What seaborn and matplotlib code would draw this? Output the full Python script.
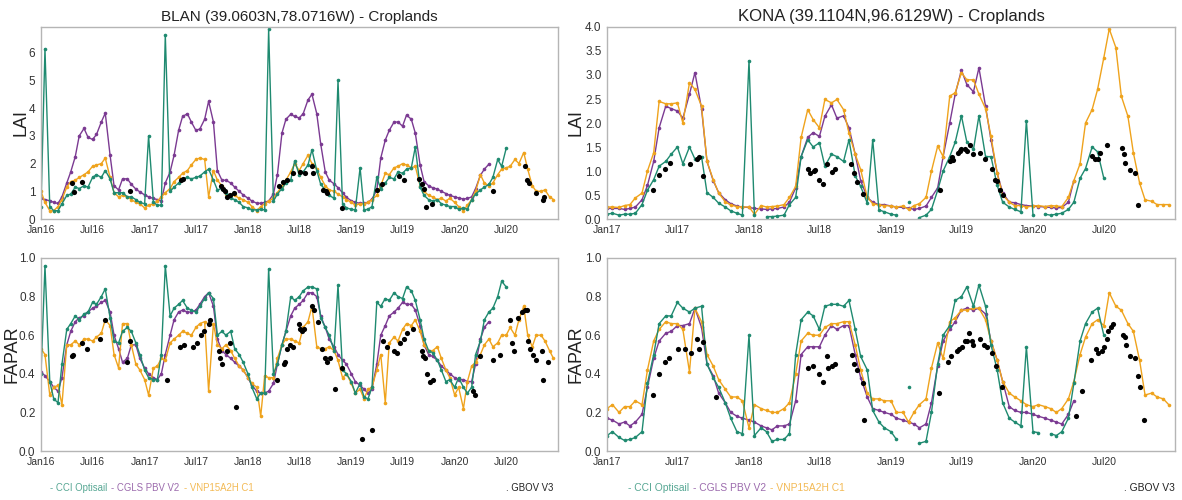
import numpy as np
import pandas as pd
import matplotlib
matplotlib.use("Agg")
import matplotlib.pyplot as plt
import matplotlib.dates as mdates
from matplotlib import font_manager
import seaborn as sns

nan = np.nan

# ---------------- BLAN: semi-monthly samples starting 2016-01-01 ----------------
blan_start = "2016-01-01"
blan_periods = 120

blan_lai_cgls = [
    0.75, 0.70, 0.66, 0.60, 0.56, 0.80, 1.30, 1.70, 2.25, 3.00,
    3.27, 2.95, 2.87, 3.05, 3.50, 3.82, 2.30, 1.20, 1.05, 1.45,
    1.45, 1.25, 1.08, 0.98, 0.87, 0.80, 0.74, 0.70, 0.66, 1.30,
    1.70, 2.30, 3.20, 3.70, 3.80, 3.50, 3.20, 3.25, 3.60, 4.25,
    3.50, 1.75, 1.40, 1.40, 1.30, 1.15, 1.00, 0.87, 0.75, 0.65,
    0.57, 0.57, 0.60, 0.65, 0.90, 1.60, 3.10, 3.60, 3.78, 3.70,
    3.65, 3.80, 4.30, 4.50, 3.80, 2.70, 1.70, 1.40, 1.27, 1.13,
    0.95, 0.78, 0.66, 0.60, 0.57, 0.57, 0.60, 0.72, 1.05, 2.20,
    2.85, 3.20, 3.50, 3.50, 3.35, 3.75, 3.60, 3.10, 1.95, 1.35,
    1.20, 1.13, 1.08, 1.00, 0.92, 0.85, 0.80, 0.76, 0.72, 0.74,
    0.80, 1.10, 1.58, 1.80, 1.98, nan, nan, nan, nan, nan,
    nan, nan, nan, nan, nan, nan, nan, nan, nan, nan,
]
blan_lai_cci = [
    0.45, 6.15, 0.45, 0.30, 0.30, 0.55, 0.85, 0.90, 1.15, 1.10,
    1.20, 1.15, 1.50, 1.60, 1.50, 1.75, 1.45, 0.95, 0.95, 0.95,
    0.80, 0.80, 0.70, 0.60, 0.55, 3.00, 0.60, 0.50, 0.50, 6.65,
    1.00, 1.15, 1.30, 1.45, 1.50, 1.45, 1.50, 1.55, 1.70, 1.80,
    1.40, 1.05, 1.10, 0.95, 0.75, 0.70, 0.60, 0.45, 0.40, 0.33,
    0.33, 0.35, 0.33, 6.85, 0.65, 0.90, 1.10, 1.30, 1.40, 2.10,
    1.60, 1.70, 1.95, 2.50, 1.75, 1.25, 1.05, 0.85, 0.75, 5.00,
    0.55, 0.40, 0.35, 0.33, 1.85, 0.33, 0.35, 0.45, 1.50, 1.10,
    1.30, 1.50, 1.45, 1.70, 1.65, 1.80, 1.85, 2.60, 1.15, 0.85,
    0.70, 0.65, 0.70, 0.55, 0.50, 0.45, 0.45, 0.35, 0.40, 0.35,
    0.70, 0.90, 1.05, 1.15, 1.25, 1.50, 2.15, 1.90, 2.55, nan,
    nan, nan, nan, nan, nan, nan, nan, nan, nan, nan,
]
blan_lai_vnp = [
    1.00, 0.60, 0.30, 0.30, 0.45, 0.70, 1.15, 1.35, 1.40, 1.50,
    1.60, 1.70, 1.90, 1.95, 2.00, 2.20, 1.50, 0.95, 0.80, 0.85,
    0.80, 0.70, 0.60, 0.55, 0.40, 0.50, 0.55, 0.65, 0.80, 0.95,
    1.10, 1.35, 1.50, 1.65, 1.75, 1.95, 2.15, 2.20, 2.15, 0.80,
    1.75, 1.40, 1.20, 0.90, 0.85, 0.85, 0.75, 0.70, 0.60, 0.45,
    0.30, 0.45, 0.55, 0.65, 0.75, 0.95, 1.20, 1.40, 1.70, 2.00,
    1.75, 2.00, 2.30, 2.00, 1.80, 1.50, 1.20, 1.05, 1.00, 0.90,
    0.80, 0.70, 0.60, 0.50, 0.55, 0.55, 0.60, 0.70, 0.85, 1.20,
    1.65, 1.60, 1.85, 1.90, 2.00, 1.95, 1.85, 1.90, 1.20, 1.00,
    0.85, 0.80, 0.70, 0.75, 0.65, 0.75, 0.60, 0.45, 0.30, 0.50,
    0.70, 1.00, 1.60, 1.30, 1.20, 1.30, 1.60, 1.80, 1.85, 1.90,
    2.15, 2.00, 2.40, 1.80, 1.20, 1.00, 1.00, 1.05, 0.80, 0.70,
]
blan_lai_gbov_t = [
    2016.30, 2016.32, 2016.395, 2016.865, 2017.35, 2017.37, 2017.74, 2017.76,
    2017.78, 2017.80, 2017.83, 2017.86, 2018.30, 2018.34, 2018.38, 2018.44,
    2018.50, 2018.55, 2018.62, 2018.63, 2018.73, 2018.75, 2018.76, 2018.91,
    2019.25, 2019.30, 2019.46, 2019.51, 2019.65, 2019.68, 2019.70, 2019.72,
    2019.78, 2020.37, 2020.68, 2020.70, 2020.72, 2020.79, 2020.85, 2020.86,
]
blan_lai_gbov_v = [
    1.30, 0.97, 1.35, 1.00, 1.40, 1.45, 1.20, 1.10,
    1.00, 0.80, 0.85, 0.95, 1.20, 1.35, 1.40, 1.65,
    1.70, 1.65, 1.90, 1.65, 1.05, 1.00, 0.95, 0.40,
    1.05, 1.25, 1.55, 1.40, 1.45, 1.25, 1.10, 0.45,
    0.55, 1.00, 1.90, 1.40, 1.30, 0.95, 0.70, 0.80,
]

blan_fapar_cgls = [
    0.41, 0.39, 0.36, 0.33, 0.31, 0.38, 0.55, 0.62, 0.67, 0.69,
    0.70, 0.72, 0.74, 0.75, 0.77, 0.78, 0.72, 0.60, 0.53, 0.46,
    0.48, 0.55, 0.55, 0.48, 0.43, 0.40, 0.38, 0.37, 0.40, 0.50,
    0.60, 0.68, 0.72, 0.73, 0.72, 0.72, 0.73, 0.76, 0.80, 0.82,
    0.75, 0.58, 0.52, 0.50, 0.48, 0.46, 0.44, 0.42, 0.38, 0.34,
    0.31, 0.30, 0.30, 0.31, 0.35, 0.45, 0.55, 0.62, 0.70, 0.74,
    0.76, 0.78, 0.82, 0.82, 0.80, 0.70, 0.64, 0.58, 0.54, 0.50,
    0.47, 0.45, 0.40, 0.36, 0.34, 0.32, 0.30, 0.32, 0.45, 0.60,
    0.65, 0.70, 0.72, 0.74, 0.77, 0.76, 0.76, 0.73, 0.65, 0.55,
    0.50, 0.49, 0.47, 0.44, 0.42, 0.40, 0.38, 0.37, 0.37, 0.36,
    0.36, 0.45, 0.58, 0.64, 0.67, nan, nan, nan, nan, nan,
    nan, nan, nan, nan, nan, nan, nan, nan, nan, nan,
]
blan_fapar_cci = [
    0.40, 0.96, 0.36, 0.27, 0.25, 0.45, 0.63, 0.66, 0.70, 0.68,
    0.71, 0.72, 0.77, 0.76, 0.80, 0.84, 0.69, 0.57, 0.56, 0.62,
    0.64, 0.62, 0.56, 0.50, 0.42, 0.38, 0.37, 0.37, 0.50, 0.96,
    0.70, 0.74, 0.76, 0.78, 0.74, 0.73, 0.72, 0.75, 0.79, 0.82,
    0.79, 0.60, 0.62, 0.60, 0.62, 0.53, 0.50, 0.46, 0.40, 0.33,
    0.27, 0.30, 0.30, 0.945, 0.40, 0.45, 0.55, 0.62, 0.80, 0.78,
    0.80, 0.83, 0.85, 0.85, 0.84, 0.69, 0.64, 0.60, 0.52, 0.86,
    0.42, 0.40, 0.36, 0.30, 0.35, 0.28, 0.27, 0.33, 0.77, 0.75,
    0.79, 0.78, 0.82, 0.80, 0.79, 0.85, 0.83, 0.78, 0.68, 0.58,
    0.52, 0.51, 0.47, 0.42, 0.36, 0.37, 0.33, 0.38, 0.33, 0.30,
    0.33, 0.50, 0.57, 0.68, 0.72, 0.74, 0.80, 0.88, 0.85, nan,
    nan, nan, nan, nan, nan, nan, nan, nan, nan, nan,
]
blan_fapar_vnp = [
    0.53, 0.50, 0.29, 0.33, 0.34, 0.24, 0.55, 0.55, 0.57, 0.55,
    0.58, 0.58, 0.57, 0.59, 0.61, 0.68, 0.65, 0.50, 0.43, 0.66,
    0.66, 0.55, 0.45, 0.42, 0.37, 0.29, 0.43, 0.44, 0.48, 0.47,
    0.56, 0.58, 0.60, 0.62, 0.61, 0.60, 0.64, 0.66, 0.67, 0.31,
    0.66, 0.55, 0.53, 0.55, 0.52, 0.48, 0.44, 0.42, 0.38, 0.35,
    0.33, 0.18, 0.39, 0.38, 0.38, 0.48, 0.55, 0.58, 0.58, 0.57,
    0.56, 0.64, 0.67, 0.75, 0.54, 0.53, 0.53, 0.54, 0.52, 0.47,
    0.38, 0.40, 0.35, 0.30, 0.32, 0.27, 0.32, 0.33, 0.42, 0.50,
    0.25, 0.56, 0.59, 0.57, 0.63, 0.66, 0.65, 0.68, 0.62, 0.55,
    0.52, 0.52, 0.54, 0.48, 0.42, 0.38, 0.29, 0.33, 0.22, 0.36,
    0.44, 0.46, 0.50, 0.55, 0.58, 0.54, 0.56, 0.60, 0.60, 0.64,
    0.60, 0.68, 0.75, 0.60, 0.54, 0.60, 0.60, 0.57, 0.52, 0.48,
]
blan_fapar_gbov_t = [
    2016.297, 2016.313, 2016.394, 2016.442, 2016.571, 2016.619, 2016.829, 2016.861,
    2017.216, 2017.345, 2017.377, 2017.468, 2017.506, 2017.545, 2017.577, 2017.619,
    2017.635, 2017.716, 2017.732, 2017.748, 2017.797, 2017.829, 2017.881, 2018.281,
    2018.345, 2018.361, 2018.377, 2018.410, 2018.440, 2018.489, 2018.505, 2018.520,
    2018.537, 2018.617, 2018.634, 2018.682, 2018.714, 2018.747, 2018.760, 2018.795,
    2018.843, 2018.908, 2019.100, 2019.198, 2019.311, 2019.343, 2019.408, 2019.440,
    2019.470, 2019.505, 2019.537, 2019.600, 2019.680, 2019.697, 2019.713, 2019.730,
    2019.760, 2019.790, 2020.180, 2020.197, 2020.246, 2020.375, 2020.440, 2020.536,
    2020.552, 2020.570, 2020.616, 2020.649, 2020.680, 2020.697, 2020.713, 2020.729,
    2020.760, 2020.790, 2020.840, 2020.857, 2020.907,
]
blan_fapar_gbov_v = [
    0.49, 0.50, 0.56, 0.53, 0.58, 0.68, 0.46, 0.57,
    0.37, 0.54, 0.55, 0.54, 0.56, 0.60, 0.62, 0.66,
    0.68, 0.52, 0.48, 0.45, 0.52, 0.56, 0.23, 0.37,
    0.45, 0.46, 0.53, 0.55, 0.54, 0.66, 0.63, 0.62,
    0.63, 0.75, 0.73, 0.67, 0.53, 0.48, 0.46, 0.48,
    0.32, 0.43, 0.06, 0.11, 0.57, 0.54, 0.52, 0.51,
    0.56, 0.58, 0.61, 0.63, 0.52, 0.49, 0.48, 0.40,
    0.36, 0.37, 0.31, 0.29, 0.49, 0.47, 0.50, 0.68,
    0.56, 0.52, 0.69, 0.72, 0.73, 0.73, 0.57, 0.53,
    0.50, 0.47, 0.52, 0.37, 0.46,
]

# ---------------- KONA: semi-monthly samples starting 2017-01-01 ----------------
kona_start = "2017-01-01"
kona_periods = 96

kona_lai_cgls = [
    0.22, 0.22, 0.22, 0.20, 0.22, 0.25, 0.40, 0.70, 1.20, 1.90,
    2.35, 2.30, 2.25, 2.10, 2.60, 3.05, 2.30, 1.20, 0.80, 0.55,
    0.40, 0.32, 0.27, 0.25, 0.24, 0.22, 0.21, 0.20, 0.21, 0.22,
    0.25, 0.35, 0.65, 1.30, 1.70, 1.80, 1.72, 2.14, 2.38, 2.10,
    2.15, 1.90, 1.35, 0.80, 0.45, 0.35, 0.30, 0.30, 0.27, 0.25,
    0.24, 0.23, 0.20, 0.22, 0.27, 0.45, 0.65, 1.30, 2.00, 2.60,
    3.10, 2.80, 2.65, 3.15, 2.35, 1.65, 0.95, 0.55, 0.35, 0.34,
    0.30, 0.28, 0.27, 0.26, 0.25, 0.24, 0.23, 0.24, 0.35, 0.80,
    nan, nan, nan, nan, nan, nan, nan, nan, nan, nan,
    nan, nan, nan, nan, nan, nan,
]
kona_lai_cci = [
    0.10, 0.12, 0.08, 0.10, 0.10, 0.12, 0.30, 0.60, 0.82, 1.10,
    1.20, 1.35, 1.50, 1.15, 1.50, 1.25, 1.30, 0.55, 0.45, 0.33,
    0.25, 0.17, 0.12, 0.08, 3.30, 0.08, nan, 0.05, 0.05, 0.06,
    0.08, 0.30, 0.45, 1.30, 1.65, 1.50, 1.59, 1.10, 1.35, 1.30,
    1.20, 1.65, 0.90, 0.68, 0.33, 1.65, 0.19, 0.15, 0.10, 0.08,
    nan, 0.35, nan, 0.03, 0.08, 0.20, 0.60, 1.00, 1.30, 1.60,
    2.15, 1.60, 1.45, 2.15, 1.30, 1.30, 0.70, 0.35, 0.25, 0.20,
    0.15, 2.05, 0.08, nan, 0.10, 0.08, 0.10, 0.12, 0.20, 0.35,
    0.85, 1.05, 1.50, 1.40, 0.85, nan, nan, nan, nan, nan,
    nan, nan, nan, nan, nan, nan,
]
kona_lai_vnp = [
    0.25, 0.25, 0.24, 0.28, 0.30, 0.44, 0.54, 1.00, 1.38, 2.45,
    2.40, 2.40, 2.42, 2.00, 2.84, 2.70, 2.35, 1.20, 0.82, 0.54,
    0.36, 0.29, 0.26, 0.25, 0.25, 0.10, 0.28, 0.25, 0.26, 0.27,
    0.30, 0.45, 0.68, 1.70, 2.28, 2.07, 1.90, 2.49, 2.42, 2.49,
    2.28, 1.79, 1.35, 1.03, 0.45, 0.32, 0.29, 0.28, 0.27, 0.25,
    0.27, 0.20, 0.28, 0.32, 0.45, 1.00, 1.52, 1.30, 2.56, 2.63,
    3.05, 2.90, 2.90, 2.60, 2.30, 1.72, 0.95, 0.50, 0.35, 0.28,
    0.28, 0.25, 0.27, 0.28, 0.26, 0.28, 0.27, 0.26, 0.45, 0.80,
    1.15, 2.00, 2.28, 2.70, 3.36, 3.96, 3.57, 2.56, 2.14, 1.38,
    0.75, 0.40, 0.37, 0.30, 0.30, 0.30,
]
kona_lai_gbov_t = [
    2017.321, 2017.367, 2017.408, 2017.442, 2017.583, 2017.633, 2017.650, 2017.675,
    2018.413, 2018.429, 2018.454, 2018.467, 2018.496, 2018.521, 2018.546, 2018.583,
    2018.604, 2018.717, 2018.738, 2018.758, 2018.800,
    2019.342, 2019.417, 2019.427, 2019.438, 2019.475, 2019.488, 2019.496, 2019.521,
    2019.538, 2019.558, 2019.579, 2019.625, 2019.663, 2019.708, 2019.733, 2019.746,
    2019.767, 2019.788,
    2020.413, 2020.438, 2020.458, 2020.471, 2020.519, 2020.629, 2020.642, 2020.650,
    2020.683, 2020.717, 2020.742,
]
kona_lai_gbov_v = [
    0.61, 0.92, 1.05, 1.17, 1.15, 1.25, 1.30, 0.90,
    1.05, 0.95, 1.00, 1.02, 0.82, 0.72, 1.15, 0.98,
    1.05, 1.15, 0.95, 0.78, 0.52,
    0.60, 1.20, 1.30, 1.22, 1.38, 1.42, 1.45, 1.45,
    1.42, 1.55, 1.35, 1.38, 1.24, 1.05, 0.82, 0.80,
    0.60, 0.50,
    1.31, 1.25, 1.25, 1.38, 1.55, 1.48, 1.35, 1.17,
    1.03, 0.96, 0.29,
]

kona_fapar_cgls = [
    0.17, 0.16, 0.14, 0.15, 0.13, 0.15, 0.19, 0.33, 0.48, 0.57,
    0.61, 0.62, 0.65, 0.65, 0.66, 0.74, 0.64, 0.45, 0.39, 0.30,
    0.25, 0.20, 0.18, 0.17, 0.16, 0.15, 0.13, 0.12, 0.11, 0.13,
    0.13, 0.14, 0.26, 0.50, 0.54, 0.54, 0.54, 0.60, 0.65, 0.63,
    0.65, 0.65, 0.50, 0.38, 0.28, 0.22, 0.21, 0.20, 0.19, 0.17,
    0.16, 0.15, 0.14, 0.12, 0.14, 0.25, 0.44, 0.57, 0.63, 0.67,
    0.73, 0.74, 0.73, 0.74, 0.71, 0.57, 0.47, 0.36, 0.23, 0.21,
    0.20, 0.20, 0.19, 0.18, 0.17, 0.16, 0.15, 0.14, 0.19, 0.26,
    nan, nan, nan, nan, nan, nan, nan, nan, nan, nan,
    nan, nan, nan, nan, nan, nan,
]
kona_fapar_cci = [
    0.08, 0.10, 0.07, 0.055, 0.06, 0.07, 0.10, 0.35, 0.50, 0.66,
    0.70, 0.70, 0.77, 0.74, 0.72, 0.74, 0.75, 0.45, 0.38, 0.33,
    0.25, 0.17, 0.10, 0.09, 0.60, 0.08, 0.12, 0.10, 0.05, 0.06,
    0.06, 0.09, 0.50, 0.68, 0.72, 0.70, 0.63, 0.75, 0.76, 0.76,
    0.75, 0.78, 0.63, 0.49, 0.42, 0.21, 0.15, 0.12, 0.10, 0.06,
    nan, 0.33, nan, 0.04, 0.05, 0.20, 0.45, 0.60, 0.65, 0.78,
    0.80, 0.85, 0.75, 0.86, 0.75, 0.55, 0.42, 0.25, 0.17, 0.15,
    0.13, 0.54, 0.10, 0.095, nan, 0.09, 0.08, 0.10, 0.17, 0.35,
    0.57, 0.66, 0.72, 0.74, 0.60, nan, nan, nan, nan, nan,
    nan, nan, nan, nan, nan, nan,
]
kona_fapar_vnp = [
    0.22, 0.24, 0.20, 0.23, 0.23, 0.26, 0.24, 0.42, 0.57, 0.63,
    0.67, 0.66, 0.66, 0.63, 0.41, 0.74, 0.67, 0.50, 0.44, 0.37,
    0.32, 0.28, 0.28, 0.26, 0.12, 0.24, 0.22, 0.21, 0.20, 0.20,
    0.22, 0.25, 0.40, 0.57, 0.61, 0.60, 0.60, 0.64, 0.66, 0.66,
    0.67, 0.67, 0.55, 0.42, 0.30, 0.27, 0.27, 0.26, 0.26, 0.20,
    0.20, 0.15, 0.20, 0.24, 0.27, 0.43, 0.56, 0.48, 0.67, 0.69,
    0.73, 0.73, 0.74, 0.74, 0.68, 0.57, 0.47, 0.36, 0.30, 0.28,
    0.26, 0.24, 0.23, 0.24, 0.23, 0.22, 0.20, 0.22, 0.27, 0.36,
    0.50, 0.59, 0.66, 0.68, 0.65, 0.82, 0.75, 0.73, 0.66, 0.62,
    0.47, 0.29, 0.30, 0.28, 0.27, 0.24,
]
kona_fapar_gbov_t = [
    2017.322, 2017.366, 2017.408, 2017.439, 2017.498, 2017.549, 2017.589, 2017.631,
    2017.648, 2017.674, 2017.768,
    2018.418, 2018.453, 2018.495, 2018.519, 2018.547, 2018.559, 2018.582, 2018.606,
    2018.723, 2018.740, 2018.758, 2018.800, 2018.810,
    2019.340, 2019.404, 2019.420, 2019.467, 2019.481, 2019.498, 2019.521, 2019.538,
    2019.552, 2019.568, 2019.575, 2019.627, 2019.655, 2019.674, 2019.709, 2019.737,
    2019.779,
    2020.303, 2020.343, 2020.408, 2020.444, 2020.460, 2020.483, 2020.503, 2020.519,
    2020.530, 2020.547, 2020.561, 2020.636, 2020.648, 2020.653, 2020.683, 2020.718,
    2020.737, 2020.753, 2020.782,
]
kona_fapar_gbov_v = [
    0.29, 0.40, 0.46, 0.48, 0.53, 0.53, 0.51, 0.58,
    0.53, 0.565, 0.28,
    0.43, 0.44, 0.40, 0.36, 0.49, 0.43, 0.44, 0.45,
    0.50, 0.45, 0.42, 0.35, 0.16,
    0.30, 0.46, 0.49, 0.52, 0.53, 0.54, 0.57, 0.57,
    0.61, 0.57, 0.55, 0.58, 0.55, 0.54, 0.51, 0.44,
    0.33,
    0.18, 0.31, 0.47, 0.53, 0.51, 0.52, 0.54, 0.58,
    0.62, 0.64, 0.66, 0.60, 0.59, 0.55, 0.49, 0.48,
    0.39, 0.33, 0.16,
]

titles = ["BLAN (39.0603N,78.0716W) - Croplands", "KONA (39.1104N,96.6129W) - Croplands"]
products = ["CCI Optisail", "CGLS PBV V2", "VNP15A2H C1"]
gbov_name = "GBOV V3"

# ---------------- styling ----------------
sns.set_style("white", {"axes.edgecolor": "#b5b5b5"})
names = {f.name for f in font_manager.fontManager.ttflist}
NARROW = "Liberation Sans Narrow" if "Liberation Sans Narrow" in names else "Liberation Sans"
REG = "Liberation Sans"
plt.rcParams["font.family"] = [REG, "DejaVu Sans"]

colors = {"CCI Optisail": "#1f8a70", "CGLS PBV V2": "#7b3a92", "VNP15A2H C1": "#efa31d"}


def dec_to_date(t):
    y = int(np.floor(t))
    return pd.Timestamp(year=y, month=1, day=1) + pd.Timedelta(days=(t - y) * 365.25)


def series_frame(dates, values, name):
    v = np.asarray(values, dtype=float)
    seg = np.cumsum(np.isnan(v))
    df = pd.DataFrame({"date": dates, "value": v, "seg": seg})
    df = df[~np.isnan(v)].copy()
    df["unit"] = name + "_" + df["seg"].astype(str)
    return df


blan_dates = pd.date_range(blan_start, periods=blan_periods, freq="SMS")
kona_dates = pd.date_range(kona_start, periods=kona_periods, freq="SMS")

panels = [
    dict(pos=[41, 27, 558, 219], dates=blan_dates, cci=blan_lai_cci, cgls=blan_lai_cgls, vnp=blan_lai_vnp,
         gt=blan_lai_gbov_t, gv=blan_lai_gbov_v, ylabel="LAI", ylim=(0, 6.93), yticks=[0, 1, 2, 3, 4, 5, 6],
         yfmt="{:.0f}", xlim=("2016-01-01", "2020-12-31"), title=titles[0], font=NARROW, tsize=11.0,
         labx=-0.023),
    dict(pos=[607, 27, 1175, 219], dates=kona_dates, cci=kona_lai_cci, cgls=kona_lai_cgls, vnp=kona_lai_vnp,
         gt=kona_lai_gbov_t, gv=kona_lai_gbov_v, ylabel="LAI", ylim=(0, 4.0),
         yticks=[0, 0.5, 1, 1.5, 2, 2.5, 3, 3.5, 4], yfmt="{:.1f}", xlim=("2017-01-01", "2020-12-31"),
         title=titles[1], font=REG, tsize=12.1, labx=-0.040),
    dict(pos=[41, 258, 558, 451], dates=blan_dates, cci=blan_fapar_cci, cgls=blan_fapar_cgls, vnp=blan_fapar_vnp,
         gt=blan_fapar_gbov_t, gv=blan_fapar_gbov_v, ylabel="FAPAR", ylim=(0, 1.0),
         yticks=[0, 0.2, 0.4, 0.6, 0.8, 1.0], yfmt="{:.1f}", xlim=("2016-01-01", "2020-12-31"),
         title=None, font=NARROW, tsize=11, labx=-0.039),
    dict(pos=[607, 258, 1175, 451], dates=kona_dates, cci=kona_fapar_cci, cgls=kona_fapar_cgls, vnp=kona_fapar_vnp,
         gt=kona_fapar_gbov_t, gv=kona_fapar_gbov_v, ylabel="FAPAR", ylim=(0, 1.0),
         yticks=[0, 0.2, 0.4, 0.6, 0.8, 1.0], yfmt="{:.1f}", xlim=("2017-01-01", "2020-12-31"),
         title=None, font=REG, tsize=12, labx=-0.040),
]

W, H = 1182, 500
fig = plt.figure(figsize=(W / 100, H / 100), dpi=100)

for p in panels:
    x0, y0, x1, y1 = p["pos"]
    ax = fig.add_axes([x0 / W, 1 - y1 / H, (x1 - x0) / W, (y1 - y0) / H])
    for name, key in [("CGLS PBV V2", "cgls"), ("VNP15A2H C1", "vnp"), ("CCI Optisail", "cci")]:
        df = series_frame(p["dates"], p[key], name)
        sns.lineplot(data=df, x="date", y="value", units="unit", estimator=None, sort=False,
                     color=colors[name], linewidth=1.0, marker="o", markersize=2.6,
                     markeredgewidth=0, ax=ax, legend=False)
    g = pd.DataFrame({"date": [dec_to_date(t) for t in p["gt"]], "value": p["gv"]})
    sns.scatterplot(data=g, x="date", y="value", color="black", s=14, linewidth=0, ax=ax,
                    zorder=5, legend=False)

    ax.set_xlim(pd.Timestamp(p["xlim"][0]), pd.Timestamp(p["xlim"][1]))
    ax.set_ylim(*p["ylim"])
    ax.set_yticks(p["yticks"])
    ax.set_yticklabels([p["yfmt"].format(v) for v in p["yticks"]], fontfamily=p["font"], fontsize=8.5,
                       color="#333333")
    ax.xaxis.set_major_locator(mdates.MonthLocator(bymonth=[1, 7]))
    ax.xaxis.set_major_formatter(mdates.DateFormatter("%b%y"))
    for lab in ax.get_xticklabels():
        lab.set_fontfamily(NARROW)
        lab.set_fontsize(7.5)
        lab.set_color("#333333")
    ax.tick_params(axis="both", length=2.5, width=0.8, color="#888888", pad=1.5)
    ax.set_xlabel("")
    ax.set_ylabel(p["ylabel"], fontsize=13, color="#222222", fontfamily=REG)
    ax.yaxis.set_label_coords(p["labx"], 0.5)
    for s in ax.spines.values():
        s.set_linewidth(1.0)
    if p["title"]:
        ax.set_title(p["title"], fontsize=p["tsize"], fontfamily=p["font"], color="#222222", pad=4)

# legend-like captions under each column, laid out from measured text widths
renderer = fig.canvas.get_renderer()
leg_y = 1 - 488 / H
groups = [dict(x0=50, x1=252, gx=553, font=NARROW), dict(x0=628, x1=844, gx=1175, font=REG)]
for grp in groups:
    labels = ["- " + n for n in products]
    gap = 4
    fs = 8.5
    probe = [fig.text(0, 0, s, fontsize=fs, fontfamily=grp["font"]) for s in labels]
    widths = [t.get_window_extent(renderer).width for t in probe]
    for t in probe:
        t.remove()
    fs = fs * (grp["x1"] - grp["x0"] - gap * 2) / sum(widths)
    x = grp["x0"]
    for s, name in zip(labels, products):
        t = fig.text(x / W, leg_y, s, color=colors[name], alpha=0.75, fontsize=fs,
                     fontfamily=grp["font"], va="center", ha="left")
        x = t.get_window_extent(renderer).x1 + gap
    fig.text(grp["gx"] / W, leg_y, ". " + gbov_name, color="#222222", fontsize=fs,
             fontfamily=grp["font"], va="center", ha="right")

fig.savefig("out.png", dpi=100)
